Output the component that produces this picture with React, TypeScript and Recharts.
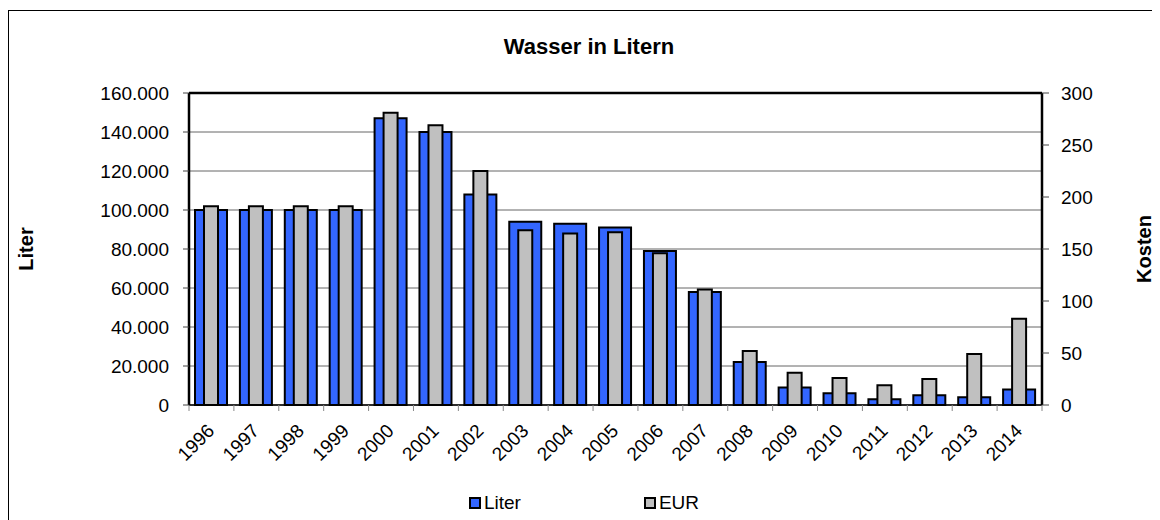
import { BarChart, Bar, XAxis, YAxis, CartesianGrid, Legend, ReferenceLine } from "recharts"

const years = ["1996", "1997", "1998", "1999", "2000", "2001", "2002", "2003", "2004", "2005", "2006", "2007", "2008", "2009", "2010", "2011", "2012", "2013", "2014"]
const liter = [100000, 100000, 100000, 100000, 147000, 140000, 108000, 94000, 93000, 91000, 79000, 58000, 22000, 9000, 6000, 3000, 5000, 4000, 8000]
const eur = [191, 191, 191, 191, 281, 269, 225, 168, 165, 166, 146, 111, 52, 31, 26, 19, 25, 49, 83]
const literTicks = [0, 20000, 40000, 60000, 80000, 100000, 120000, 140000, 160000]
const eurTicks = [0, 50, 100, 150, 200, 250, 300]

const data = years.map((year, i) => ({ year, Liter: liter[i], EUR: eur[i] }))

const FONT = "'Liberation Sans', Arial, sans-serif"
const PLOT_W = 853
const BAND = PLOT_W / years.length

const fmt = (v: number) => String(v).replace(/\B(?=(\d{3})+(?!\d))/g, ".")

const YearTick = (props: any) => {
  const { x, y, payload, index } = props
  const tx = x + 4
  const ty = y + 27
  return (
    <g>
      <line x1={x - BAND / 2} x2={x - BAND / 2} y1={y} y2={y + 6} stroke="#888" />
      {index === years.length - 1 && (
        <line x1={x + BAND / 2} x2={x + BAND / 2} y1={y} y2={y + 6} stroke="#888" />
      )}
      <text
        x={tx}
        y={ty}
        transform={`rotate(-45, ${tx}, ${ty})`}
        textAnchor="end"
        fontSize={19}
        fontFamily={FONT}
        fill="#000"
      >
        {payload.value}
      </text>
    </g>
  )
}

const LegendBox = () => (
  <div
    style={{
      display: "flex",
      justifyContent: "center",
      height: 20,
      alignItems: "center",
      fontFamily: FONT,
      fontSize: 19,
    }}
  >
    <div style={{ display: "flex", alignItems: "center", width: 175 }}>
      <span style={{ width: 8, height: 8, background: "#3366FF", border: "2px solid #000", marginRight: 3 }} />
      Liter
    </div>
    <div style={{ display: "flex", alignItems: "center" }}>
      <span style={{ width: 8, height: 8, background: "#C0C0C0", border: "2px solid #000", marginRight: 3 }} />
      EUR
    </div>
  </div>
)

export default function App() {
  return (
    <div style={{ paddingTop: 2 }}>
      <div
        style={{
          position: "relative",
          width: 1160,
          height: 520,
          border: "1px solid #000",
          fontFamily: FONT,
        }}
      >
        <div
          style={{
            position: "absolute",
            top: 25,
            left: 0,
            right: 0,
            textAlign: "center",
            fontSize: 22,
            lineHeight: "22px",
            fontWeight: "bold",
          }}
        >
          Wasser in Litern
        </div>
        <BarChart
          width={1150}
          height={508}
          data={data}
          margin={{ top: 82, right: 0, left: 0, bottom: 6 }}
        >
          <CartesianGrid yAxisId="left" vertical={false} stroke="#666" />
          <XAxis
            xAxisId="main"
            dataKey="year"
            height={88}
            tickSize={0}
            tickMargin={0}
            tickLine={false}
            interval={0}
            axisLine={{ stroke: "#000", strokeWidth: 1.5 }}
            tick={<YearTick />}
          />
          <XAxis xAxisId="over" dataKey="year" hide />
          <YAxis
            yAxisId="left"
            width={180}
            domain={[0, 160000]}
            ticks={literTicks}
            tickFormatter={fmt}
            tickSize={6}
            tickMargin={14}
            tickLine={{ stroke: "#444" }}
            axisLine={{ stroke: "#000", strokeWidth: 2.5 }}
            tick={{ fontSize: 19, fill: "#000", fontFamily: FONT }}
            label={{
              value: "Liter",
              angle: -90,
              position: "center",
              dx: -73,
              style: { fontSize: 20, fontWeight: "bold", fill: "#000", fontFamily: FONT },
            }}
          />
          <YAxis
            yAxisId="right"
            orientation="right"
            width={117}
            domain={[0, 300]}
            ticks={eurTicks}
            tickSize={7}
            tickMargin={12}
            tickLine={{ stroke: "#444" }}
            axisLine={{ stroke: "#000", strokeWidth: 2.5 }}
            tick={{ fontSize: 19, fill: "#000", fontFamily: FONT, textAnchor: "start" }}
            label={{
              value: "Kosten",
              angle: -90,
              position: "center",
              dx: 43,
              style: { fontSize: 20, fontWeight: "bold", fill: "#000", fontFamily: FONT },
            }}
          />
          <ReferenceLine yAxisId="left" xAxisId="main" y={160000} stroke="#000" strokeWidth={2.5} />
          <Bar
            xAxisId="main"
            yAxisId="left"
            dataKey="Liter"
            fill="#3366FF"
            stroke="#000"
            strokeWidth={2}
            barSize={32}
            isAnimationActive={false}
          />
          <Bar
            xAxisId="over"
            yAxisId="right"
            dataKey="EUR"
            fill="#C0C0C0"
            stroke="#000"
            strokeWidth={2}
            barSize={14}
            isAnimationActive={false}
          />
          <Legend content={<LegendBox />} verticalAlign="bottom" height={20} />
        </BarChart>
      </div>
    </div>
  )
}
